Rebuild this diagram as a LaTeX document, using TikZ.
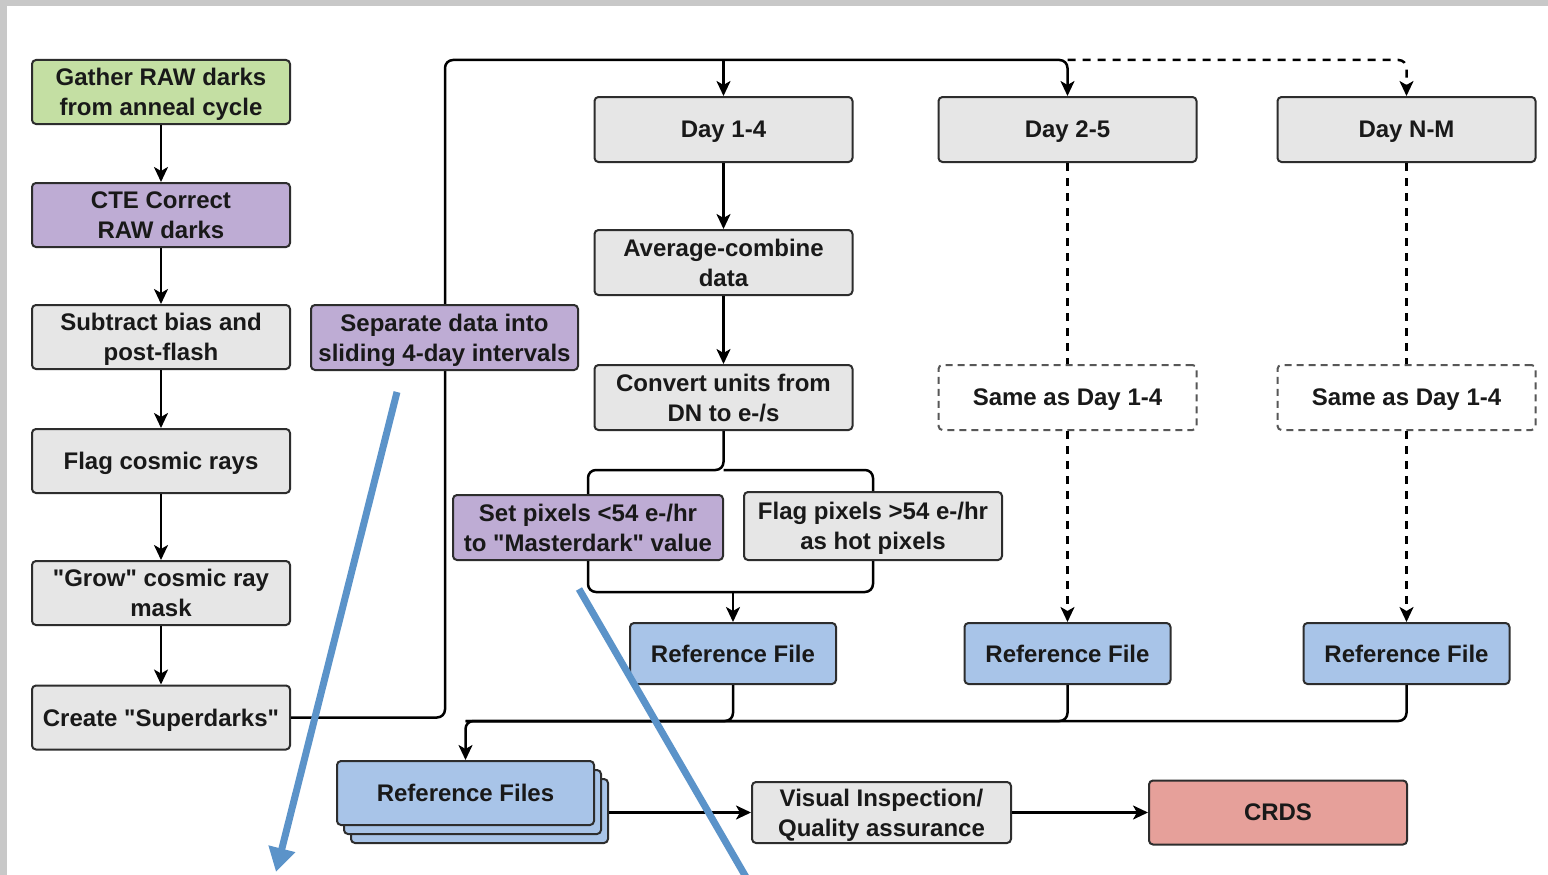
\documentclass[tikz,border=0pt]{standalone}
\usepackage{fontspec}
\setmainfont{Liberation Sans}
\usetikzlibrary{arrows.meta}

\definecolor{boxgrey}{RGB}{230,230,230}
\definecolor{boxgreen}{RGB}{196,223,163}
\definecolor{boxpurple}{RGB}{190,172,212}
\definecolor{boxblue}{RGB}{168,196,232}
\definecolor{boxred}{RGB}{230,160,154}
\definecolor{edgegrey}{RGB}{45,45,45}
\definecolor{notearrow}{RGB}{91,147,201}
\definecolor{panelgrey}{RGB}{200,200,200}
\definecolor{inkgrey}{RGB}{25,25,25}

% straight double quote
\newcommand{\dq}{\textquotedbl}

\tikzset{
  box/.style={draw=edgegrey, line width=2pt, rounded corners=4pt, fill=boxgrey,
    align=center, inner sep=0pt, text=inkgrey, text depth=-4pt,
    font=\fontsize{24}{30}\selectfont\bfseries},
  greenbox/.style={box, fill=boxgreen},
  purplebox/.style={box, fill=boxpurple},
  bluebox/.style={box, fill=boxblue},
  redbox/.style={box, fill=boxred},
  ghostbox/.style={box, fill=white, draw=edgegrey!80, dashed, dash pattern=on 7pt off 5pt},
  wide/.style={minimum width=258pt, minimum height=64pt},
  conn/.style={draw=black, line width=2.5pt, rounded corners=8pt},
  arr/.style={conn, -{Stealth[length=15pt,width=14pt,inset=4pt]}},
  dconn/.style={conn, dash pattern=on 8pt off 7pt},
  darr/.style={arr, dash pattern=on 8pt off 7pt},
  note/.style={draw=notearrow, line width=7pt},
}

\begin{document}
\begin{tikzpicture}[x=1pt,y=-1pt]
\useasboundingbox (0,0) rectangle (1548,875);
\clip (0,0) rectangle (1548,875);

% backdrop
\fill[panelgrey] (0,0) rectangle (1548,875);
\fill[white] (7,6) rectangle (1548,875);

% coordinates of the line joins
\coordinate (bus) at (445,60);
\coordinate (split) at (723.5,470);
\coordinate (merge) at (733,592);
\coordinate (collect) at (465.5,721);

% preparation column
\node[greenbox, wide] (gather) at (161,92) {Gather RAW darks\\from anneal cycle};
\node[purplebox, wide] (cte) at (161,215) {CTE Correct\\RAW darks};
\node[box, wide] (subtract) at (161,337) {Subtract bias and\\post-flash};
\node[box, wide] (flagcr) at (161,461) {Flag cosmic rays};
\node[box, wide] (grow) at (161,593) {\dq Grow\dq\ cosmic ray\\mask};
\node[box, wide] (create) at (161,717.5) {Create \dq Superdarks\dq};

\draw[arr] (gather) -- (cte);
\draw[arr] (cte) -- (subtract);
\draw[arr] (subtract) -- (flagcr);
\draw[arr] (flagcr) -- (grow);
\draw[arr] (grow) -- (create);

% day windows
\node[box, wide, minimum height=65pt] (day1) at (723.5,129.5) {Day 1-4};
\node[box, wide, minimum height=65pt] (day2) at (1067.5,129.5) {Day 2-5};
\node[box, wide, minimum height=65pt] (dayN) at (1406.5,129.5) {Day N-M};

% feed from the superdarks to each window
\draw[arr] (create.east) -| (bus) -| (day2.north);
\draw[arr] (day1.north |- bus) -- (day1.north);
\draw[darr] (day2.north |- bus) -| (dayN.north);

\node[purplebox, minimum width=267pt, minimum height=65pt] (separate) at (444.5,337.5)
  {Separate data into\\sliding 4-day intervals};

% processing chain for the first window
\node[box, wide, minimum height=65pt] (average) at (723.5,262.5) {Average-combine\\data};
\node[box, wide, minimum height=65pt] (convert) at (723.5,397.5) {Convert units from\\DN to e-/s};
\node[purplebox, minimum width=270pt, minimum height=65pt] (setpix) at (588,527.5)
  {Set pixels <54 e-/hr\\to \dq Masterdark\dq\ value};
\node[box, minimum width=258pt, minimum height=68pt] (hotpix) at (873,526)
  {Flag pixels >54 e-/hr\\as hot pixels};

\draw[arr] (day1) -- (average);
\draw[arr] (average) -- (convert);
\draw[conn] (convert.south) -- (split) -| (setpix.north);
\draw[conn] (split) -| (hotpix.north);

% remaining windows
\node[ghostbox, wide, minimum height=65pt] (same2) at (1067.5,397.5) {Same as Day 1-4};
\node[ghostbox, wide, minimum height=65pt] (sameN) at (1406.5,397.5) {Same as Day 1-4};

% reference files per window
\node[bluebox, minimum width=206pt, minimum height=61pt] (rf1) at (733,653.5) {Reference File};
\node[bluebox, minimum width=206pt, minimum height=61pt] (rf2) at (1067.5,653.5) {Reference File};
\node[bluebox, minimum width=206pt, minimum height=61pt] (rf3) at (1406.5,653.5) {Reference File};

\draw[conn] (setpix.south) |- (merge);
\draw[conn] (hotpix.south) |- (merge);
\draw[arr] (merge) -- (rf1.north);

\draw[dconn] (day2.south) -- (same2.north);
\draw[darr] (same2.south) -- (rf2.north);
\draw[dconn] (dayN.south) -- (sameN.north);
\draw[darr] (sameN.south) -- (rf3.north);

% stacked reference file set
\node[bluebox, minimum width=257pt, minimum height=64pt] (stack3) at (479.5,811) {};
\node[bluebox, minimum width=257pt, minimum height=64pt] (stack2) at (472.5,802) {};
\node[bluebox, minimum width=257pt, minimum height=64pt] (reffiles) at (465.5,793) {Reference Files};

\draw[conn] (rf1.south) |- (collect);
\draw[conn] (rf2.south) |- (collect);
\draw[arr] (rf3.south) |- (collect) -- (reffiles.north);

% delivery
\node[box, minimum width=259pt, minimum height=61pt] (visual) at (881.5,812.5)
  {Visual Inspection/\\Quality assurance};
\node[redbox, minimum width=258pt, minimum height=64pt] (crds) at (1278,812.5) {CRDS};

\draw[arr] (stack3.east |- visual.west) -- (visual.west);
\draw[arr] (visual.east) -- (crds.west);

% overlaid pointer strokes
\coordinate (noteAstart) at (397,392);
\coordinate (noteAend) at (276,872);
\coordinate (noteBstart) at (579,589);
\coordinate (noteBend) at (750,884);
\draw[note, -{Triangle[length=24pt,width=26pt]}] (noteAstart) -- (noteAend);
\draw[note] (noteBstart) -- (noteBend);
\end{tikzpicture}
\end{document}
